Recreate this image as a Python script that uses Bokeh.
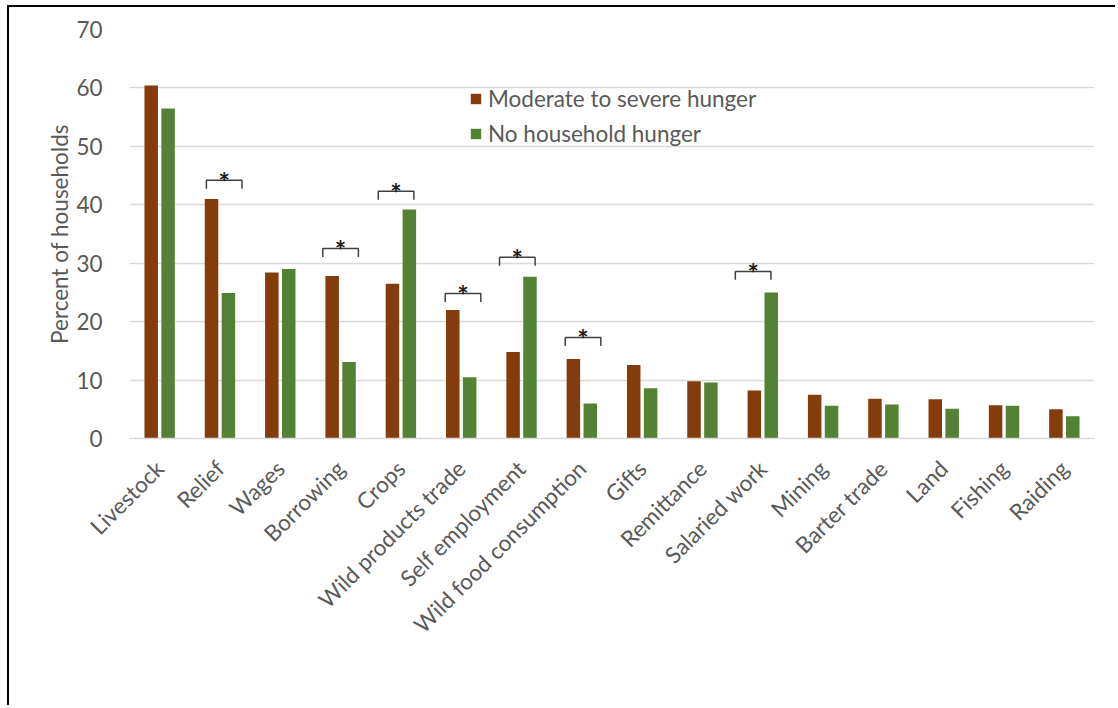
import math
from bokeh.plotting import figure
from bokeh.models import Range1d, FixedTicker, Legend, LegendItem, ColumnDataSource
from bokeh.transform import dodge
from bokeh.core.properties import value
from bokeh.embed import file_html
from bokeh.resources import INLINE

categories = ["Livestock", "Relief", "Wages", "Borrowing", "Crops", "Wild products trade",
              "Self employment", "Wild food consumption", "Gifts", "Remittance", "Salaried work",
              "Mining", "Barter trade", "Land", "Fishing", "Raiding"]
moderate_severe = [60.4, 41.0, 28.4, 27.8, 26.5, 22.0, 14.8, 13.6, 12.6, 9.8, 8.2, 7.5, 6.8, 6.7, 5.7, 5.0]
no_hunger = [56.5, 24.9, 29.0, 13.1, 39.2, 10.5, 27.7, 6.0, 8.6, 9.6, 25.0, 5.6, 5.8, 5.1, 5.6, 3.8]
series_names = ["Moderate to severe hunger", "No household hunger"]
y_ticks = [0, 10, 20, 30, 40, 50, 60, 70]

# significance brackets
sig_categories = ["Relief", "Borrowing", "Crops", "Wild products trade", "Self employment",
                  "Wild food consumption", "Salaried work"]
sig_top = [44.2, 32.5, 42.3, 24.8, 31.0, 17.3, 28.6]
sig_shift = [0.07, 0.0, -0.08, 0.03, -0.07, 0.02, -0.16]

FONT = "Lato"
FS = "22.5px"
GREY = "#595959"
BROWN = "#843C0C"
GREEN = "#548235"

centers = [i + 0.5 for i in range(len(categories))]
src = ColumnDataSource(dict(x=centers, a=moderate_severe, b=no_hunger))

p = figure(width=1108, height=700, output_backend="svg", toolbar_location=None,
           x_range=Range1d(0, len(categories)), y_range=Range1d(0, 70),
           min_border_left=120, min_border_right=23, min_border_top=22, min_border_bottom=269)
p.styles = {"border-left": "2px solid black", "border-top": "2px solid black",
            "margin-left": "7px", "margin-top": "5px"}
p.outline_line_color = None
p.background_fill_color = "white"
p.border_fill_color = "white"

r1 = p.vbar(x=dodge("x", -0.14), top="a", width=0.224, source=src, fill_color=BROWN, line_color=None)
r2 = p.vbar(x=dodge("x", 0.14), top="b", width=0.224, source=src, fill_color=GREEN, line_color=None)

# brackets
xs, ys, ax, ay = [], [], [], []
drop = 1.45
half = 0.295
for c, t, s in zip(sig_categories, sig_top, sig_shift):
    cx = categories.index(c) + 0.5 + s
    xs.append([cx - half, cx - half, cx + half, cx + half])
    ys.append([t - drop, t, t, t - drop])
    ax.append(cx)
    ay.append(t)
p.multi_line(xs=xs, ys=ys, line_color="#404040", line_width=1.5)
p.text(x=ax, y=ay, text=["*"] * len(ax), text_font=value(FONT), text_font_size="27px",
       text_font_style="bold", text_color="#1a1a1a", text_align="center",
       text_baseline="alphabetic", y_offset=1)

# axes
p.xgrid.grid_line_color = None
p.ygrid.grid_line_color = "#d9d9d9"
p.ygrid.grid_line_width = 1.5
p.yaxis.ticker = FixedTicker(ticks=y_ticks)
p.xaxis.ticker = FixedTicker(ticks=centers)
p.xaxis.major_label_overrides = {c: n for c, n in zip(centers, categories)}
p.xaxis.major_label_orientation = math.pi / 4
for ax_ in (p.xaxis[0], p.yaxis[0]):
    ax_.major_label_text_font = FONT
    ax_.major_label_text_font_size = FS
    ax_.major_label_text_color = GREY
    ax_.major_tick_line_color = None
    ax_.minor_tick_line_color = None
p.xaxis.axis_line_color = "#d9d9d9"
p.xaxis.axis_line_width = 1.5
p.xaxis.major_label_standoff = 20
p.yaxis.axis_line_color = None
p.yaxis.major_label_standoff = 21
p.yaxis.axis_label = "Percent of households"
p.yaxis.axis_label_text_font = FONT
p.yaxis.axis_label_text_font_size = FS
p.yaxis.axis_label_text_font_style = "normal"
p.yaxis.axis_label_text_color = GREY
p.yaxis.axis_label_standoff = 0

legend = Legend(items=[LegendItem(label=series_names[0], renderers=[r1]),
                       LegendItem(label=series_names[1], renderers=[r2])],
                location=(340, 291), orientation="vertical")
legend.label_text_font = FONT
legend.label_text_font_size = FS
legend.label_text_color = GREY
legend.glyph_width = 13
legend.glyph_height = 13
legend.label_standoff = 6
legend.spacing = 8
legend.padding = 0
legend.margin = 0
legend.border_line_color = None
legend.background_fill_alpha = 0
p.add_layout(legend)

open("out.html", "w").write(file_html(p, INLINE))
